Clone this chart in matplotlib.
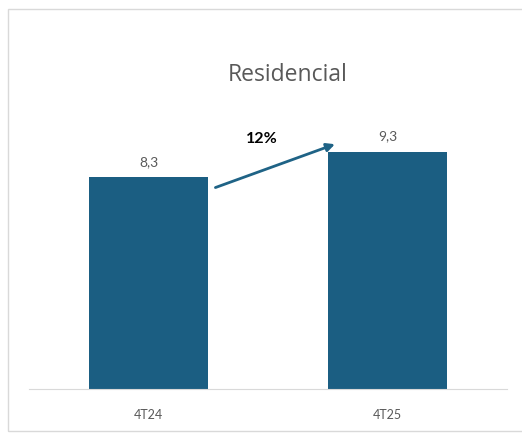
import matplotlib.pyplot as plt
from matplotlib.patches import Rectangle

categories = ['4T24', '4T25']
values = [8.3, 9.3]
value_labels = ['8,3', '9,3']
growth_label = '12%'

bar_color = '#1b5e82'
text_color = '#595959'

plt.rcParams['font.family'] = ['Lato', 'DejaVu Sans']

W, H = 522, 435
fig = plt.figure(figsize=(W / 100, H / 100), dpi=100)
fig.patch.set_facecolor('white')

# outer chart frame (right edge falls outside the image)
fig.add_artist(Rectangle((8 / W, 1 - 432 / H), (530 - 8) / W, (432 - 10) / H,
                         transform=fig.transFigure, fill=False,
                         edgecolor='#d9d9d9', linewidth=1, clip_on=False))

ax = fig.add_axes([29 / W, 1 - 390 / H, (507 - 29) / W, (390 - 60) / H])
x = list(range(len(categories)))
ax.bar(x, values, width=0.5, color=bar_color)
ax.set_xlim(-0.5, 1.5)
ax.set_ylim(0, 330 / 25.5)

for xi, v, lab in zip(x, values, value_labels):
    ax.text(xi, v + 0.4, lab, ha='center', va='bottom', fontsize=10, color=text_color)

ax.annotate('', xy=(0.78, 9.6), xytext=(0.28, 7.9),
            arrowprops=dict(arrowstyle='-|>', color='#1f6386', lw=2, mutation_scale=12,
                            shrinkA=0, shrinkB=0))
ax.text(0.475, 9.85, growth_label, ha='center', va='center', fontsize=11.5,
        fontweight='bold', color='black')

ax.set_xticks(x)
ax.set_xticklabels(categories, fontsize=9, color=text_color)
ax.tick_params(axis='x', length=0, pad=14)
ax.set_yticks([])
for s in ['top', 'right', 'left']:
    ax.spines[s].set_visible(False)
ax.spines['bottom'].set_color('#d9d9d9')

fig.text(288 / W, 1 - 75 / H, 'Residencial', ha='center', va='center',
         fontsize=16.5, color=text_color, family=['Open Sans', 'DejaVu Sans'])

fig.savefig('out.png', dpi=100)
